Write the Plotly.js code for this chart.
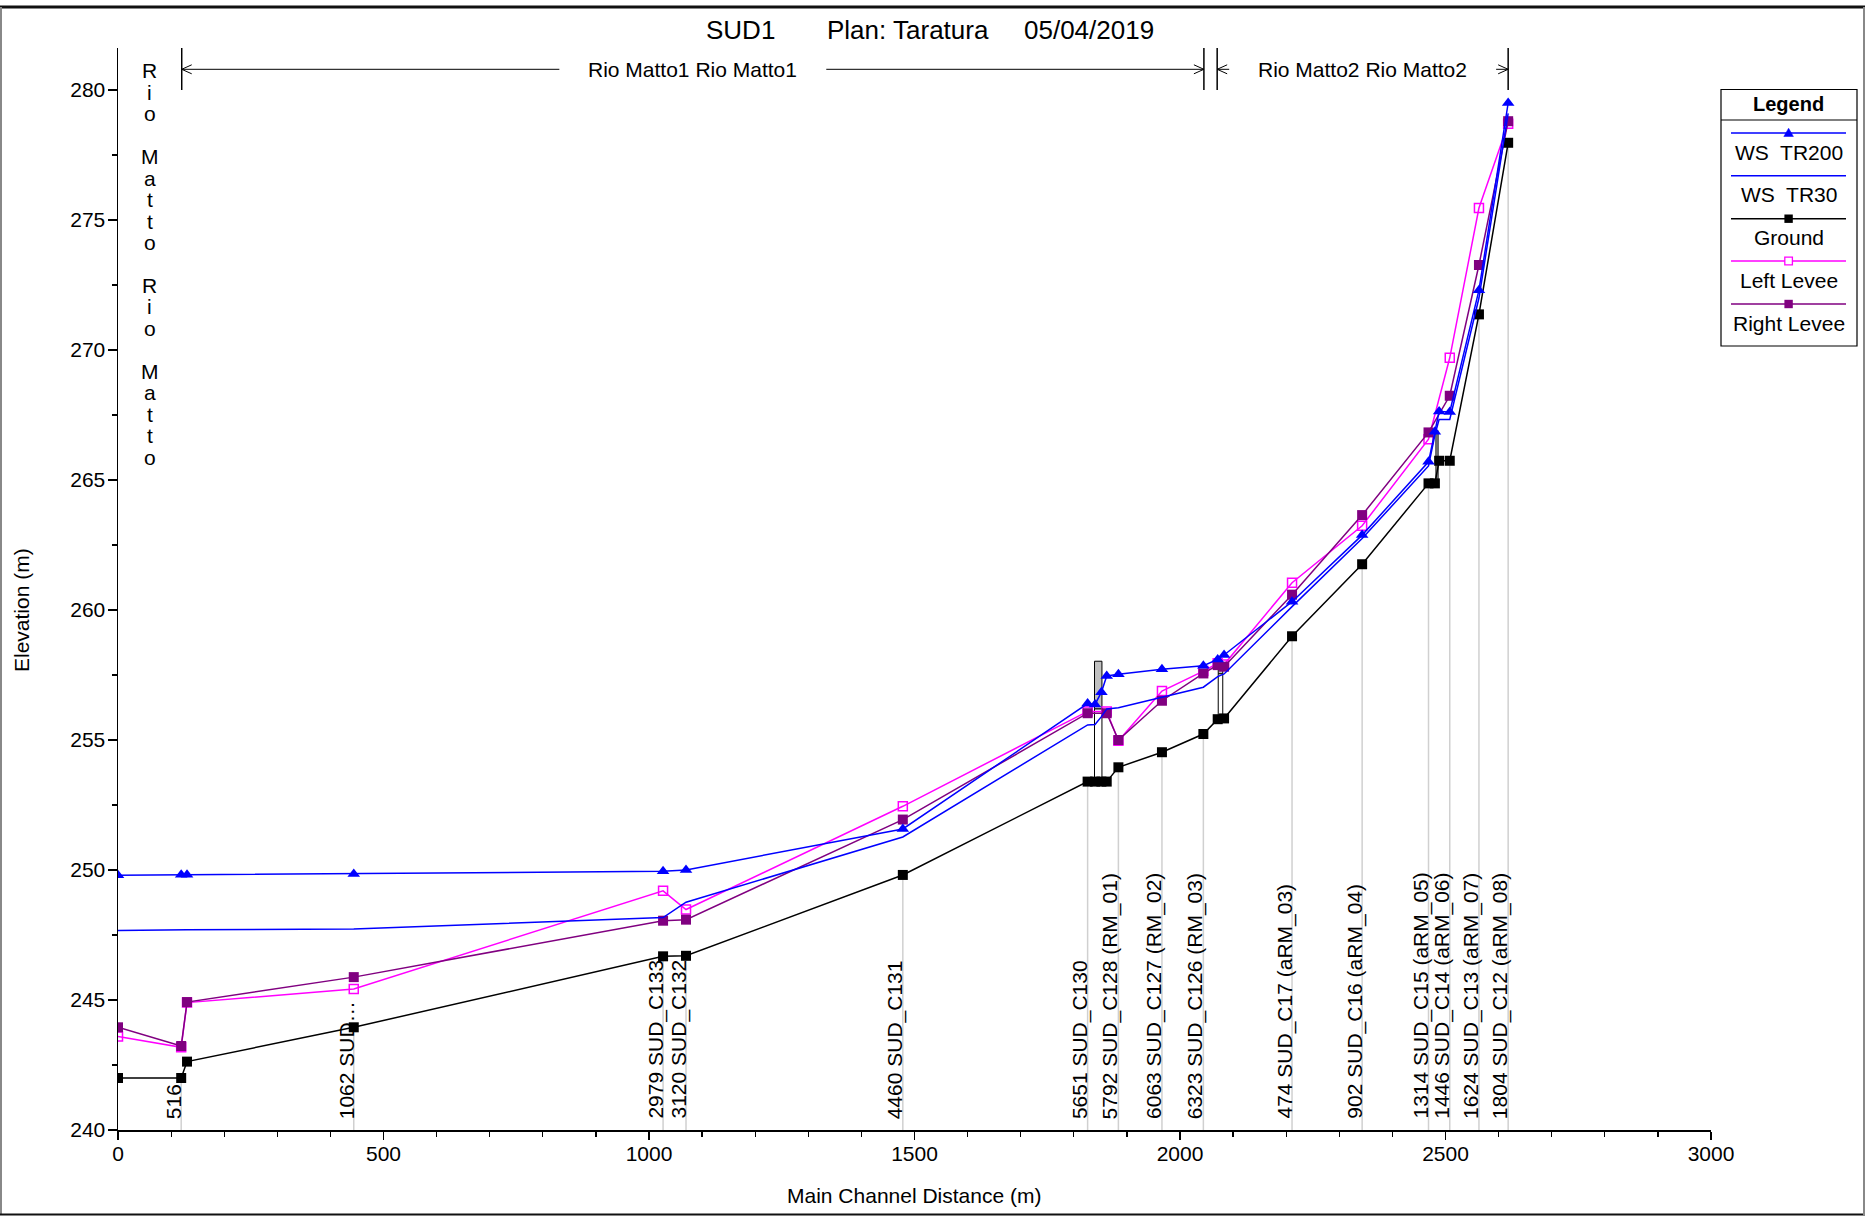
<!DOCTYPE html>
<html>
<head>
<meta charset="utf-8">
<script src="https://cdn.plot.ly/plotly-3.0.1.min.js"></script>
<style>html,body{margin:0;padding:0;background:#fff;}#chart{width:1865px;height:1216px;}</style>
</head>
<body>
<div id="chart"></div>
<script>
// ---------------- DATA ----------------
const stations   = [0, 119, 130, 444, 1026.5, 1069.7, 1478, 1826, 1840, 1852, 1862, 1884, 1966, 2044, 2071, 2083, 2211, 2343, 2468, 2480, 2488, 2508, 2563, 2618];
const wsTR200    = [249.80, 249.82, 249.82, 249.85, 249.95, 250.00, 251.58, 256.40, 256.37, 256.84, 257.46, 257.53, 257.72, 257.86, 258.10, 258.27, 260.32, 262.88, 265.70, 266.86, 267.63, 267.62, 272.30, 279.50];
const wsTR30     = [247.67, 247.70, 247.70, 247.73, 248.17, 248.76, 251.27, 255.58, 255.60, 255.90, 256.19, 256.24, 256.63, 257.03, 257.44, 257.54, 260.13, 262.75, 265.54, 266.73, 267.33, 267.33, 272.00, 279.10];
const ground     = [242.00, 242.00, 242.63, 243.95, 246.68, 246.70, 249.81, 253.40, 253.40, 253.40, 253.40, 253.95, 254.53, 255.23, 255.80, 255.83, 258.99, 261.76, 264.87, 264.87, 265.74, 265.74, 271.37, 277.97];
const leftLevee  = [243.60, 243.18, 244.90, 245.42, 249.20, 248.48, 252.45, 256.10, null, null, 256.10, 254.97, 256.88, 257.65, 257.95, 257.90, 261.05, 263.24, 266.57, null, null, 269.70, 275.46, 278.70];
const rightLevee = [243.95, 243.23, 244.92, 245.88, 248.05, 248.09, 251.94, 256.03, null, null, 256.03, 255.00, 256.51, 257.56, 257.88, 257.82, 260.59, 263.65, 266.83, null, null, 268.24, 273.27, 278.80];

const labelStations = [119, 444, 1026.5, 1069.7, 1478, 1826, 1884, 1966, 2044, 2211, 2343, 2468, 2508, 2563, 2618];
const stationLabels = ["516", "1062 SUD\u2026", "2979 SUD_C133", "3120 SUD_C132", "4460 SUD_C131", "5651 SUD_C130",
  "5792 SUD_C128 (RM_01)", "6063 SUD_C127 (RM_02)", "6323 SUD_C126 (RM_03)", "474 SUD_C17 (aRM_03)",
  "902 SUD_C16 (aRM_04)", "1314 SUD_C15 (aRM_05)", "1446 SUD_C14 (aRM_06)", "1624 SUD_C13 (aRM_07)", "1804 SUD_C12 (aRM_08)"];

const reachLabels = ["Rio Matto Rio Matto", "Rio Matto1 Rio Matto1", "Rio Matto2 Rio Matto2"];
const reachStart  = [0, 120, 2070];
const reachEnd    = [120, 2045, 2618];

const bridgeX0   = [1839, 2072, 2482];
const bridgeX1   = [1853, 2080.5, 2486];
const bridgeBed  = [253.40, 255.80, 264.87];
const bridgeLow  = [256.20, 257.55, 264.90];
const bridgeHigh = [258.03, 257.80, 266.90];

const titleParts = ["SUD1", "Plan: Taratura", "05/04/2019"];
const legendNames = ["WS\u00a0 TR200", "WS\u00a0 TR30", "Ground", "Left Levee", "Right Levee"];

// ---------------- LAYOUT GEOMETRY ----------------
const W = 1865, H = 1216, ML = 118, MR = 154, MT = 48, MB = 86;
const PW = W - ML - MR, PH = H - MT - MB;
const PX_PER_M = 26;
const Y0 = 240, Y1 = 240 + PH / PX_PER_M;
const X0 = 0, X1 = 3000;
const pxPerX = PW / (X1 - X0);
const FONT = 'Arial, "Liberation Sans", sans-serif';
const xp = px => (px - ML) / PW;
const yp = py => (MT + PH - py) / PH;
const yFromPx = py => Y0 + (MT + PH - py) / PX_PER_M;

const BLUE = '#0000ff', MAG = '#ff00ff', PUR = '#800080', BLK = '#000000';

// ---------------- TRACES ----------------
const traces = [
  {x: stations, y: leftLevee, mode: 'lines+markers', connectgaps: true, line: {color: MAG, width: 1.5},
   marker: {symbol: 'square-open', size: 9, color: MAG, line: {width: 1.5, color: MAG}}},
  {x: stations, y: rightLevee, mode: 'lines+markers', connectgaps: true, line: {color: PUR, width: 1.5},
   marker: {symbol: 'square', size: 10, color: PUR}},
  {x: stations, y: ground, mode: 'lines+markers', line: {color: BLK, width: 1.5},
   marker: {symbol: 'square', size: 10, color: BLK}},
  {x: stations, y: wsTR30, mode: 'lines', line: {color: BLUE, width: 1.5}},
  {x: stations, y: wsTR200, mode: 'lines+markers', line: {color: BLUE, width: 1.5},
   marker: {symbol: 'triangle-up', size: 11, color: BLUE}}
];

// ---------------- SHAPES ----------------
const shapes = [];
labelStations.forEach(s => {
  const g = ground[stations.indexOf(s)];
  shapes.push({type: 'line', xref: 'x', yref: 'y', x0: s, x1: s, y0: Y0, y1: g, layer: 'below',
    line: {color: '#d0d0d0', width: 1.5}});
});
bridgeX0.forEach((b, i) => {
  if (bridgeLow[i] > bridgeBed[i] + 0.05) {
    shapes.push({type: 'rect', xref: 'x', yref: 'y', x0: b, x1: bridgeX1[i], y0: bridgeBed[i], y1: bridgeLow[i],
      fillcolor: '#ffffff', line: {color: '#000', width: 1}, layer: 'below'});
  }
  shapes.push({type: 'rect', xref: 'x', yref: 'y', x0: b, x1: bridgeX1[i], y0: bridgeLow[i], y1: bridgeHigh[i],
    fillcolor: '#c0c0c0', line: {color: '#000', width: 1}, layer: 'below'});
});

const HEAD_PY = 69.3;
const headY = yFromPx(HEAD_PY);
const ctx = document.createElement('canvas').getContext('2d');
ctx.font = '21px Arial, "Liberation Sans"';
const GAP = 29;
function chevron(x, dir) {
  const a = 10 * dir;
  return {type: 'path', xref: 'x', yref: 'y', xsizemode: 'pixel', ysizemode: 'pixel', xanchor: x, yanchor: headY,
    path: `M${a},4.5L0,0L${a},-4.5`, line: {color: '#000', width: 1}};
}
const annotations = [];
reachLabels.forEach((name, i) => {
  const mid = (reachStart[i] + reachEnd[i]) / 2;
  if (i === 0) {
    name.split('').forEach((c, k) => {
      if (c === ' ') return;
      annotations.push({xref: 'x', yref: 'paper', x: mid, y: yp(70.7 + k * 21.48), text: c, showarrow: false,
        xanchor: 'center', yanchor: 'middle', font: {family: FONT, size: 21, color: '#000'}});
    });
    return;
  }
  const half = ctx.measureText(name).width / 2 + GAP;
  const lEnd = mid - half / pxPerX, rStart = mid + half / pxPerX;
  [reachStart[i], reachEnd[i]].forEach(xb => shapes.push({type: 'line', xref: 'x', yref: 'paper', x0: xb, x1: xb,
    y0: yp(90), y1: 1, line: {color: '#000', width: 1.5}}));
  if (lEnd > reachStart[i]) shapes.push({type: 'line', xref: 'x', yref: 'y', x0: reachStart[i], x1: lEnd, y0: headY, y1: headY, line: {color: '#000', width: 1}});
  if (rStart < reachEnd[i]) shapes.push({type: 'line', xref: 'x', yref: 'y', x0: rStart, x1: reachEnd[i], y0: headY, y1: headY, line: {color: '#000', width: 1}});
  shapes.push(chevron(reachStart[i], 1));
  shapes.push(chevron(reachEnd[i], -1));
  annotations.push({xref: 'x', yref: 'y', x: mid, y: headY, text: name, showarrow: false, xanchor: 'center', yanchor: 'middle',
    font: {family: FONT, size: 21, color: '#000'}});
});

labelStations.forEach((s, i) => {
  annotations.push({xref: 'x', yref: 'y', x: s, y: Y0, text: stationLabels[i], textangle: -90, showarrow: false,
    xanchor: 'right', yanchor: 'bottom', xshift: 6, yshift: 9, font: {family: FONT, size: 21, color: '#000'}});
});

const titleLeft = [703.6, 825.4, 1022];
titleParts.forEach((t, i) => annotations.push({xref: 'paper', yref: 'paper', x: xp(titleLeft[i]), y: yp(30), text: t,
  showarrow: false, xanchor: 'left', yanchor: 'middle', font: {family: FONT, size: 26, color: '#000'}}));

annotations.push({xref: 'paper', yref: 'paper', x: xp(21), y: yp(610), text: 'Elevation (m)', textangle: -90, showarrow: false,
  xanchor: 'center', yanchor: 'middle', font: {family: FONT, size: 21, color: '#000'}});
annotations.push({xref: 'paper', yref: 'paper', x: xp(914), y: yp(1195), text: 'Main Channel Distance (m)', showarrow: false,
  xanchor: 'center', yanchor: 'middle', font: {family: FONT, size: 21, color: '#000'}});

const LX0 = 1721, LX1 = 1857, LY0 = 89.5, LY1 = 346, LCX = 1788.6;
shapes.push({type: 'rect', xref: 'paper', yref: 'paper', x0: xp(LX0), x1: xp(LX1), y0: yp(LY1), y1: yp(LY0),
  line: {color: '#000', width: 1.2}, fillcolor: 'rgba(0,0,0,0)'});
shapes.push({type: 'line', xref: 'paper', yref: 'paper', x0: xp(LX0), x1: xp(LX1), y0: yp(120), y1: yp(120), line: {color: '#000', width: 1.2}});
annotations.push({xref: 'paper', yref: 'paper', x: xp(LCX), y: yp(104), text: '<b>Legend</b>', showarrow: false,
  xanchor: 'center', yanchor: 'middle', font: {family: FONT, size: 20, color: '#000'}});
const legLineY = [133, 175.7, 218.7, 261, 304];
const legColors = [BLUE, BLUE, BLK, MAG, PUR];
legendNames.forEach((n, i) => {
  const ly = legLineY[i];
  shapes.push({type: 'line', xref: 'paper', yref: 'paper', x0: xp(1731), x1: xp(1846), y0: yp(ly), y1: yp(ly),
    line: {color: legColors[i], width: 1.5}});
  const base = {xref: 'paper', yref: 'paper', xsizemode: 'pixel', ysizemode: 'pixel', xanchor: xp(LCX), yanchor: yp(ly)};
  if (i === 0) shapes.push(Object.assign({type: 'path', path: 'M-4.8,-3.5L4.8,-3.5L0,4.8Z', fillcolor: BLUE, line: {color: BLUE, width: 0.5}}, base));
  if (i === 2) shapes.push(Object.assign({type: 'rect', x0: -4.2, x1: 4.2, y0: -4.2, y1: 4.2, fillcolor: BLK, line: {width: 0}}, base));
  if (i === 3) shapes.push(Object.assign({type: 'rect', x0: -3.8, x1: 3.8, y0: -3.8, y1: 3.8, fillcolor: '#fff', line: {color: MAG, width: 1.3}}, base));
  if (i === 4) shapes.push(Object.assign({type: 'rect', x0: -4.2, x1: 4.2, y0: -4.2, y1: 4.2, fillcolor: PUR, line: {width: 0}}, base));
  annotations.push({xref: 'paper', yref: 'paper', x: xp(LCX), y: yp(ly + 19), text: n, showarrow: false,
    xanchor: 'center', yanchor: 'middle', font: {family: FONT, size: 21, color: '#000'}});
});

shapes.push({type: 'line', xref: 'paper', yref: 'paper', x0: xp(0), x1: xp(W), y0: yp(7), y1: yp(7), line: {color: '#111', width: 3}});
shapes.push({type: 'line', xref: 'paper', yref: 'paper', x0: xp(1), x1: xp(1), y0: yp(7), y1: yp(1215), line: {color: '#888', width: 2}});
shapes.push({type: 'line', xref: 'paper', yref: 'paper', x0: xp(0), x1: xp(W), y0: yp(1214.5), y1: yp(1214.5), line: {color: '#111', width: 2}});
shapes.push({type: 'line', xref: 'paper', yref: 'paper', x0: xp(W - 1), x1: xp(W - 1), y0: yp(7), y1: yp(1215), line: {color: '#888', width: 2}});

const axisCommon = {showgrid: false, zeroline: false, showline: true, linecolor: '#000', linewidth: 1.5,
  ticks: 'outside', tickcolor: '#000', tickwidth: 1.2, tickfont: {family: FONT, size: 21, color: '#000'}};

const layout = {
  width: W, height: H,
  margin: {l: ML, r: MR, t: MT, b: MB, pad: 0},
  paper_bgcolor: '#fff', plot_bgcolor: '#fff',
  showlegend: false,
  font: {family: FONT, size: 21, color: '#000'},
  xaxis: Object.assign({}, axisCommon, {range: [X0, X1], dtick: 500, tick0: 0, ticklen: 8, ticklabelstandoff: -4,
    minor: {dtick: 100, ticks: 'outside', ticklen: 5, tickcolor: '#000', tickwidth: 1.2}}),
  yaxis: Object.assign({}, axisCommon, {range: [Y0, Y1], dtick: 5, tick0: 240, ticklen: 9, ticklabelstandoff: -2,
    minor: {dtick: 2.5, ticks: 'outside', ticklen: 5, tickcolor: '#000', tickwidth: 1.2}}),
  shapes: shapes,
  annotations: annotations
};

Plotly.newPlot('chart', traces, layout, {displayModeBar: false, staticPlot: true});
</script>
</body>
</html>
